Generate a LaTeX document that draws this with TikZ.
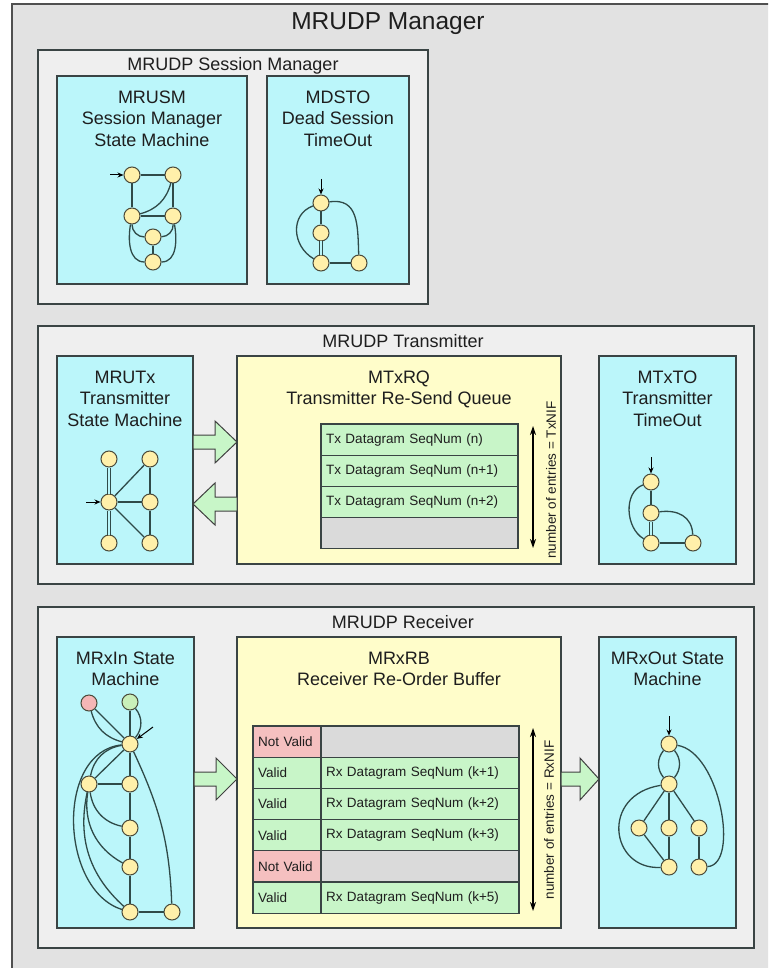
\documentclass[tikz,border=0pt]{standalone}
\usepackage{fontspec}
\setmainfont{Liberation Sans}
\usetikzlibrary{arrows.meta}
\definecolor{framefill}{HTML}{E2E2E2}
\definecolor{framedraw}{HTML}{505050}
\definecolor{secfill}{HTML}{EFEFEF}
\definecolor{bordercol}{HTML}{3A4444}
\definecolor{cyanfill}{HTML}{BBF6FA}
\definecolor{yelfill}{HTML}{FFFDCA}
\definecolor{rowgreen}{HTML}{C8F5C8}
\definecolor{rowgray}{HTML}{DADADA}
\definecolor{rowred}{HTML}{F5C0C0}
\definecolor{nodefill}{HTML}{FFF0AA}
\definecolor{nodedraw}{HTML}{4A4A3A}
\definecolor{nodered}{HTML}{F5B6B6}
\definecolor{nodegreen}{HTML}{C9EFB9}
\definecolor{edgecol}{HTML}{2F4A48}
\definecolor{txtcol}{HTML}{1E1E1E}
\definecolor{arrowfill}{HTML}{C8F6C8}
\definecolor{arrowdraw}{HTML}{404040}
\begin{document}
\begin{tikzpicture}[x=1pt,y=1pt,
  secbox/.style={draw=bordercol, fill=secfill, line width=1.2pt, anchor=north west, inner sep=0pt, outer sep=0pt},
  cybox/.style={draw=bordercol, fill=cyanfill, line width=1.2pt, anchor=north west, inner sep=0pt, outer sep=0pt},
  ylbox/.style={draw=bordercol, fill=yelfill, line width=1.2pt, anchor=north west, inner sep=0pt, outer sep=0pt},
  boxtitle/.style={font=\fontsize{18}{21.5}\selectfont, text=txtcol, align=center, anchor=north, inner sep=0pt},
  seclabel/.style={font=\fontsize{18}{21.5}\selectfont, text=txtcol, anchor=north, inner sep=0pt},
  maintitle/.style={font=\fontsize{24.5}{28}\selectfont, text=txtcol, anchor=north, inner sep=0pt},
  st/.style={circle, draw=nodedraw, fill=nodefill, line width=1pt, minimum size=16pt, inner sep=0pt},
  ed/.style={draw=edgecol, line width=1.3pt},
  dbl/.style={draw=edgecol, line width=1.1pt, double=cyanfill, double distance=1.8pt},
  startarr/.style={draw=black, line width=1pt, -{Stealth[length=6pt,width=5pt]}},
  tcell/.style={draw=bordercol, line width=1.2pt, anchor=north west, minimum height=31.2pt, inner xsep=5pt, inner ysep=0pt, outer sep=0pt, align=left, font=\fontsize{13.5}{16}\selectfont, text=txtcol},
  bigarrow/.style={fill=arrowfill, draw=arrowdraw, line width=1pt, line join=miter},
  meas/.style={draw=black, line width=1.2pt, {Stealth[length=9pt,width=6pt]}-{Stealth[length=9pt,width=6pt]}},
  measlbl/.style={font=\fontsize{13.5}{16}\selectfont, rotate=90, text=txtcol, inner sep=0pt},
]
\useasboundingbox (0,0) rectangle (768,-968);
\begin{scope}
  \clip (0,0) rectangle (768,-968);
  \fill[white] (0,0) rectangle (768,-968);
  \draw[fill=framefill, draw=framedraw, line width=1.5pt] (12,-4) rectangle (792,-992);
\end{scope}
\node[maintitle] (ttl) at (388,-12.5) {MRUDP Manager};

% ---------- sections ----------
\node[secbox, minimum width=390pt, minimum height=254pt] (sess) at (38,-50) {};
\node[seclabel] (sesslbl) at (233,-57) {MRUDP Session Manager};
\node[secbox, minimum width=716pt, minimum height=258pt] (txsec) at (38,-326) {};
\node[seclabel] (txlbl) at (403,-334.5) {MRUDP Transmitter};
\node[secbox, minimum width=716pt, minimum height=341pt] (rxsec) at (38,-607) {};
\node[seclabel] (rxlbl) at (403,-615.5) {MRUDP Receiver};

% ---------- inner boxes ----------
\node[cybox, minimum width=190pt, minimum height=208pt] (usm) at (57,-76) {};
\node[boxtitle] (usmt) at (152,-90.5) {MRUSM\\Session Manager\\State Machine};
\node[cybox, minimum width=142pt, minimum height=208pt] (dsto) at (267,-76) {};
\node[boxtitle] (dstot) at (338,-90.5) {MDSTO\\Dead Session\\TimeOut};

\node[cybox, minimum width=136pt, minimum height=208pt] (utx) at (57,-356) {};
\node[boxtitle] (utxt) at (125,-370.5) {MRUTx\\Transmitter\\State Machine};
\node[ylbox, minimum width=324pt, minimum height=208pt] (txrq) at (237,-356) {};
\node[boxtitle] (txrqt) at (399,-370.5) {MTxRQ\\Transmitter Re-Send Queue};
\node[cybox, minimum width=137pt, minimum height=208pt] (txto) at (599,-356) {};
\node[boxtitle] (txtot) at (667.5,-370.5) {MTxTO\\Transmitter\\TimeOut};

\node[cybox, minimum width=137pt, minimum height=291pt] (rxin) at (57,-637) {};
\node[boxtitle] (rxint) at (125.5,-651.5) {MRxIn State\\Machine};
\node[ylbox, minimum width=324pt, minimum height=291pt] (rxrb) at (237,-637) {};
\node[boxtitle] (rxrbt) at (399,-651.5) {MRxRB\\Receiver Re-Order Buffer};
\node[cybox, minimum width=137pt, minimum height=291pt] (rxout) at (599,-637) {};
\node[boxtitle] (rxoutt) at (667.5,-651.5) {MRxOut State\\Machine};

% ---------- block arrows ----------
\draw[bigarrow] (193,-435) -- (215,-435) -- (215,-421) -- (237,-442) -- (215,-463) -- (215,-449) -- (193,-449) -- cycle;
\draw[bigarrow] (237,-497) -- (215,-497) -- (215,-483) -- (193,-504) -- (215,-525) -- (215,-511) -- (237,-511) -- cycle;
\draw[bigarrow] (194,-772) -- (216,-772) -- (216,-758) -- (237,-779) -- (216,-800) -- (216,-786) -- (194,-786) -- cycle;
\draw[bigarrow] (561,-772) -- (580,-772) -- (580,-758) -- (599,-779) -- (580,-800) -- (580,-786) -- (561,-786) -- cycle;

% ---------- Tx queue ----------
\node[tcell, fill=rowgreen, text width=187pt] (tq1) at (321,-424) {Tx Datagram SeqNum (n)};
\node[tcell, fill=rowgreen, text width=187pt] (tq2) at (321,-455.2) {Tx Datagram SeqNum (n+1)};
\node[tcell, fill=rowgreen, text width=187pt] (tq3) at (321,-486.4) {Tx Datagram SeqNum (n+2)};
\node[tcell, fill=rowgray, text width=187pt] (tq4) at (321,-517.6) {};
\coordinate (txm1) at (533,-426);
\coordinate (txm2) at (533,-548);
\draw[meas] (txm1) -- (txm2);
\node[measlbl] (txmlbl) at (551,-480) {number of entries = TxNIF};

% ---------- Rx buffer ----------
\node[tcell, fill=rowred, text width=58pt] (ra1) at (253,-726) {Not Valid};
\node[tcell, fill=rowgray, text width=188pt] (rb1) at (321,-726) {};
\node[tcell, fill=rowgreen, text width=58pt] (ra2) at (253,-757.2) {Valid};
\node[tcell, fill=rowgreen, text width=188pt] (rb2) at (321,-757.2) {Rx Datagram SeqNum (k+1)};
\node[tcell, fill=rowgreen, text width=58pt] (ra3) at (253,-788.4) {Valid};
\node[tcell, fill=rowgreen, text width=188pt] (rb3) at (321,-788.4) {Rx Datagram SeqNum (k+2)};
\node[tcell, fill=rowgreen, text width=58pt] (ra4) at (253,-819.6) {Valid};
\node[tcell, fill=rowgreen, text width=188pt] (rb4) at (321,-819.6) {Rx Datagram SeqNum (k+3)};
\node[tcell, fill=rowred, text width=58pt] (ra5) at (253,-850.8) {Not Valid};
\node[tcell, fill=rowgray, text width=188pt] (rb5) at (321,-850.8) {};
\node[tcell, fill=rowgreen, text width=58pt] (ra6) at (253,-882) {Valid};
\node[tcell, fill=rowgreen, text width=188pt] (rb6) at (321,-882) {Rx Datagram SeqNum (k+5)};
\coordinate (rxm1) at (533,-728);
\coordinate (rxm2) at (533,-911);
\draw[meas] (rxm1) -- (rxm2);
\node[measlbl] (rxmlbl) at (549,-820) {number of entries = RxNIF};

% ---------- MRUSM state machine ----------
\node[st] (ua) at (132,-175) {};
\node[st] (ub) at (173,-175) {};
\node[st] (uc) at (132,-216) {};
\node[st] (ud) at (173,-216) {};
\node[st] (ue) at (153,-237) {};
\node[st] (uf) at (153,-262) {};
\coordinate (ustart) at (110,-175);
\draw[ed] (ua) -- (ub);
\draw[ed] (ua) -- (uc);
\draw[ed] (ub) -- (ud);
\draw[ed] (uc) -- (ud);
\draw[ed] (ue) -- (uf);
\draw[ed] (ub) to[bend left=30] (uc);
\draw[ed] (uc) to[bend right=45] (ue);
\draw[ed] (ud) to[bend left=45] (ue);
\draw[ed] (uc) to[out=-100,in=180] (uf);
\draw[ed] (ud) to[out=-80,in=0] (uf);
\draw[startarr] (ustart) -- (ua);

% ---------- MDSTO ----------
\node[st] (dp) at (321,-203) {};
\node[st] (dq) at (321,-233) {};
\node[st] (dr) at (321,-263) {};
\node[st] (ds) at (359,-263) {};
\coordinate (dstart) at (321,-179);
\draw[ed] (dp) -- (dq);
\draw[dbl] (dq) -- (dr);
\draw[ed] (dr) -- (ds);
\draw[ed] (dp) to[out=200,in=150,looseness=1.2] (dr);
\draw[ed] (dp) to[out=8,in=92,looseness=1.25] (ds);
\draw[startarr] (dstart) -- (dp);

% ---------- MRUTx ----------
\node[st] (tTL) at (109,-459) {};
\node[st] (tTR) at (150,-459) {};
\node[st] (tML) at (109,-502) {};
\node[st] (tMR) at (150,-502) {};
\node[st] (tBL) at (109,-543) {};
\node[st] (tBR) at (150,-543) {};
\coordinate (tstart) at (86,-502);
\draw[dbl] (tTL) -- (tML);
\draw[dbl] (tML) -- (tBL);
\draw[ed] (tML) -- (tTR);
\draw[ed] (tML) -- (tMR);
\draw[ed] (tML) -- (tBR);
\draw[ed] (tTR) -- (tMR);
\draw[ed] (tMR) -- (tBR);
\draw[startarr] (tstart) -- (tML);

% ---------- MTxTO ----------
\node[st] (oN1) at (651,-482) {};
\node[st] (oN2) at (651,-513) {};
\node[st] (oN3) at (651,-543) {};
\node[st] (oN4) at (693,-543) {};
\coordinate (ostart) at (651,-457);
\draw[ed] (oN1) -- (oN2);
\draw[dbl] (oN2) -- (oN3);
\draw[ed] (oN3) -- (oN4);
\draw[ed] (oN1) to[out=200,in=150] (oN3);
\draw[ed] (oN2) to[out=8,in=92,looseness=1.15] (oN4);
\draw[startarr] (ostart) -- (oN1);

% ---------- MRxIn ----------
\node[st, fill=nodered] (iR) at (89,-703) {};
\node[st, fill=nodegreen] (iGn) at (130,-702) {};
\node[st] (iA) at (130,-744) {};
\node[st] (iB) at (89,-784) {};
\node[st] (iC) at (130,-784) {};
\node[st] (iD) at (130,-828) {};
\node[st] (iE) at (130,-867) {};
\node[st] (iF) at (130,-912) {};
\node[st] (iG) at (172,-912) {};
\coordinate (istart) at (153,-727);
\draw[ed] (iR) -- (iA);
\draw[ed] (iR) to[bend right=30] (iA);
\draw[ed] (iGn) -- (iA);
\draw[ed] (iGn) to[bend left=40] (iA);
\draw[ed] (iA) -- (iC);
\draw[ed] (iC) -- (iD);
\draw[ed] (iD) -- (iE);
\draw[ed] (iE) -- (iF);
\draw[ed] (iF) -- (iG);
\draw[ed] (iA) -- (iB);
\draw[ed] (iA) to[bend right=35] (iB);
\draw[ed] (iB) -- (iC);
\draw[ed] (iB) to[bend right=35] (iD);
\draw[ed] (iB) to[bend right=35] (iE);
\draw[ed] (iB) to[bend right=30] (iF);
\draw[ed] (iA) .. controls (55,-752) and (60,-890) .. (iF);
\draw[ed] (iA) to[out=-65,in=92] (iG);
\draw[startarr] (istart) -- (iA);

% ---------- MRxOut ----------
\node[st] (xT) at (669,-744) {};
\node[st] (xM) at (669,-784) {};
\node[st] (xL) at (639,-828) {};
\node[st] (xC) at (669,-828) {};
\node[st] (xR) at (699,-828) {};
\node[st] (xBL) at (669,-867) {};
\node[st] (xBR) at (699,-867) {};
\coordinate (xstart) at (669,-716);
\draw[ed] (xT) to[bend left=40] (xM);
\draw[ed] (xT) to[bend right=40] (xM);
\draw[ed] (xM) -- (xL);
\draw[ed] (xM) -- (xC);
\draw[ed] (xM) -- (xR);
\draw[ed] (xL) -- (xBL);
\draw[ed] (xC) -- (xBL);
\draw[ed] (xR) -- (xBR);
\draw[ed] (xM) .. controls (600,-795) and (610,-870) .. (xBL);
\draw[ed] (xT) .. controls (720,-752) and (740,-865) .. (xBR);
\draw[startarr] (xstart) -- (xT);
\end{tikzpicture}
\end{document}
